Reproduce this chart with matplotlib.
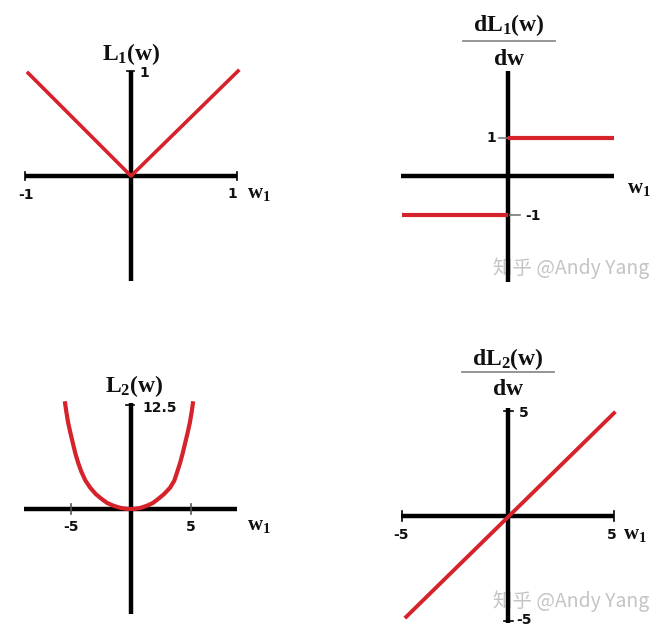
import numpy as np
import matplotlib
matplotlib.use("Agg")
import matplotlib.pyplot as plt

# Impostazioni font: serif grassetto per le formule, sans grassetto per i numeri
plt.rcParams['mathtext.fontset'] = 'custom'
plt.rcParams['mathtext.rm'] = 'Liberation Serif:bold'
plt.rcParams['mathtext.bf'] = 'Liberation Serif:bold'
plt.rcParams['mathtext.it'] = 'Liberation Serif:bold'

RED = '#d6222b'
W, H = 663, 635

# --- dati ---
# L1(w) = |w|
l1_w = [-0.97, 0.0, 1.01]
l1_val = [0.98, 0.0, 1.0]
l1_ticks_x = [-1, 1]
l1_ticks_y = [1]

# dL1/dw (gradino)
dl1_neg_w = [-1.0, 0.0]
dl1_neg = [-1, -1]
dl1_pos_w = [0.0, 1.0]
dl1_pos = [1, 1]
dl1_ticks_y = [1, -1]

# L2(w), punti letti lungo la curva
l2_w = [-5.45, -5.35, -5.2, -5.0, -4.8, -4.6, -4.35, -4.1, -3.75, -3.35, -2.9,
        -2.4, -1.95, -1.4, -0.8, -0.35, 0.0, 0.35, 0.8, 1.35, 1.875, 2.3, 2.8,
        3.29, 3.65, 3.9, 4.125, 4.35, 4.55, 4.75, 4.95, 5.1, 5.2]
l2_val = [12.7, 11.7, 10.4, 9.1, 7.9, 6.7, 5.5, 4.5, 3.4, 2.55, 1.8,
          1.2, 0.73, 0.38, 0.12, 0.02, 0.0, 0.02, 0.12, 0.38, 0.73, 1.2, 1.8,
          2.55, 3.4, 4.5, 5.5, 6.7, 7.9, 9.1, 10.4, 11.7, 12.7]
l2_ticks_x = [-5, 5]
l2_ticks_y = [12.5]

# dL2/dw (retta)
dl2_w = [-4.8, 5.0]
dl2_val = [-4.8, 4.9]
dl2_ticks_x = [-5, 5]
dl2_ticks_y = [5, -5]

fig = plt.figure(figsize=(W / 100, H / 100), dpi=100)


def pannello(cx, cy, sx, sy):
    # asse che copre tutta la figura, origine in (cx, cy) pixel, sx/sy pixel per unita'
    ax = fig.add_axes([0, 0, 1, 1])
    ax.set_xlim(-cx / sx, (W - cx) / sx)
    ax.set_ylim(-(H - cy) / sy, cy / sy)
    ax.axis('off')
    ax.patch.set_alpha(0)
    return ax


def assi(ax, xr, yr):
    ax.plot(xr, [0, 0], color='black', lw=3.2, solid_capstyle='butt', zorder=2)
    ax.plot([0, 0], yr, color='black', lw=3.2, solid_capstyle='butt', zorder=2)


def tacche_x(ax, xs, h, color='black'):
    for x in xs:
        ax.plot([x, x], [-h, h], color=color, lw=1.2, zorder=2)


def tacca_y(ax, y, x0, x1, color='black'):
    ax.plot([x0, x1], [y, y], color=color, lw=1.2, zorder=2)


num = dict(fontsize=10, fontweight='bold', family='DejaVu Sans', color='#111111')
wlab = r'$\mathbf{w_1}$'
wkw = dict(fontsize=15, color='#111111', ha='left', va='center')


def frazione(ax, top, x, y_num, y_bar, y_den, half):
    ax.text(x, y_num, top, fontsize=17, ha='center', va='baseline', color='#111111')
    ax.plot([x - half, x + half], [y_bar, y_bar], color='#8c8c8c', lw=1.3)
    ax.text(x, y_den, r'$\mathbf{dw}$', fontsize=17, ha='center', va='baseline', color='#111111')


def filigrana(ax, x, y):
    ax.text(x, y, '知乎 @Andy Yang', fontsize=14, color='#c4c4c4', ha='left', va='center',
            family=['Noto Sans CJK SC', 'DejaVu Sans'], zorder=1)


# pannello 1: L1
ax1 = pannello(131, 176, 106, 105)
assi(ax1, [-1.0, 1.0], [-1.0, 1.0])
tacche_x(ax1, l1_ticks_x, 0.04)
for y in l1_ticks_y:
    tacca_y(ax1, y, -0.04, 0.03)
    ax1.text(0.075, y - 0.02, str(y), ha='left', va='center', **num)
ax1.plot(l1_w, l1_val, color=RED, lw=2.6, zorder=3)
ax1.text(-0.99, -0.18, '-1', ha='center', va='center', **num)
ax1.text(0.96, -0.17, '1', ha='center', va='center', **num)
ax1.text(1.09, -0.16, wlab, **wkw)
ax1.text(0.0, 1.10, r'$\mathbf{L_1(w)}$', fontsize=17, ha='center', va='baseline', color='#111111')

# pannello 2: dL1/dw
ax2 = pannello(508, 176, 106, 38.5)
filigrana(ax2, -0.14, -2.39)
assi(ax2, [-1.01, 1.0], [-2.75, 2.74])
tacca_y(ax2, dl1_ticks_y[0], -0.085, 0.0, color='#777777')
tacca_y(ax2, dl1_ticks_y[1], 0.02, 0.11, color='#777777')
ax2.text(-0.11, 0.98, '1', ha='right', va='center', **num)
ax2.text(0.16, -1.04, '-1', ha='left', va='center', **num)
ax2.plot(dl1_neg_w, dl1_neg, color=RED, lw=3.0, solid_capstyle='butt', zorder=3)
ax2.plot(dl1_pos_w, dl1_pos, color=RED, lw=3.0, solid_capstyle='butt', zorder=3)
ax2.text(1.12, -0.31, wlab, **wkw)
frazione(ax2, r'$\mathbf{dL_1(w)}$', 0.01, 3.76, 3.51, 2.88, 0.43)

# pannello 3: L2
ax3 = pannello(130.5, 509, 12, 8.32)
assi(ax3, [-8.9, 8.9], [-12.6, 12.75])
tacche_x(ax3, l2_ticks_x, 0.55, color='#555555')
for y in l2_ticks_y:
    tacca_y(ax3, y, -0.35, 0.3)
    ax3.text(0.96, y - 0.35, str(y), ha='left', va='center', **num)
ax3.plot(l2_w, l2_val, color=RED, lw=3.0, zorder=3, solid_joinstyle='round')
for x in l2_ticks_x:
    ax3.text(x, -2.2, str(x), ha='center', va='center', **num)
ax3.text(9.7, -1.9, wlab, **wkw)
ax3.text(0.3, 14.1, r'$\mathbf{L_2(w)}$', fontsize=17, ha='center', va='baseline', color='#111111')

# pannello 4: dL2/dw
ax4 = pannello(508, 516, 21.2, 21.0)
filigrana(ax4, -0.71, -4.05)
assi(ax4, [-5.05, 5.0], [-5.1, 5.14])
tacche_x(ax4, dl2_ticks_x, 0.22)
for y in dl2_ticks_y:
    tacca_y(ax4, y, -0.2, 0.25)
ax4.text(0.52, 4.9, '5', ha='left', va='center', **num)
ax4.text(0.38, -4.95, '-5', ha='left', va='center', **num)
ax4.plot(dl2_w, dl2_val, color=RED, lw=2.8, zorder=3)
ax4.text(-5.05, -0.9, '-5', ha='center', va='center', **num)
ax4.text(4.9, -0.9, '5', ha='center', va='center', **num)
ax4.text(5.42, -0.85, wlab, **wkw)
frazione(ax4, r'$\mathbf{dL_2(w)}$', 0.0, 7.2, 6.86, 5.76, 2.15)

fig.savefig('out.png', dpi=100, facecolor='white')
